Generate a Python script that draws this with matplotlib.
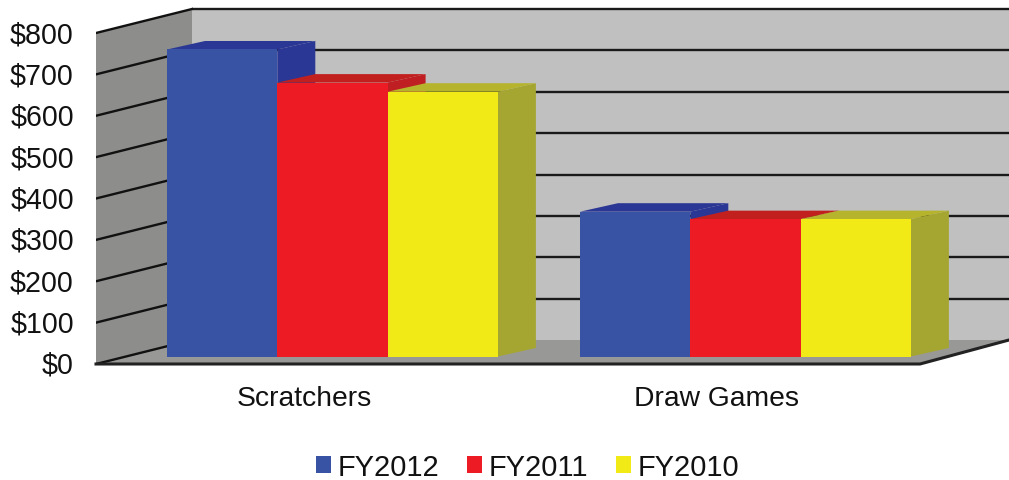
import matplotlib
matplotlib.use('Agg')
import matplotlib.pyplot as plt
from matplotlib.patches import Patch
from matplotlib.transforms import ScaledTranslation

plt.rcParams['font.family'] = ['Liberation Sans', 'DejaVu Sans']

#Data
categories = ['Scratchers', 'Draw Games']
series_names = ['FY2012', 'FY2011', 'FY2010']
fy2012 = [742, 350]
fy2011 = [662, 332]
fy2010 = [640, 332]
tick_values = [0, 100, 200, 300, 400, 500, 600, 700, 800]

#Colours: front, side, top
front_cols = ['#3953a4', '#ed1c24', '#f2ea17']
side_cols = ['#2b3795', '#bf1e22', '#a5a632']
top_cols = ['#2b3795', '#c2201f', '#b5b42c']

#Layout, x in px, y in data units
W, H = 1009, 481
PX = 331 / 800  #px per dollar
X0, X_END = 96, 1009
WALL_DX, WALL_DY = 96, 24 / PX
BAR_DX, BAR_DY = 38, 8.5 / PX
BAR_BASE = 7.5 / PX
BAR_W = 110.3
GROUP_X = [167, 580]
FLOOR_END = 920

fig = plt.figure(figsize=(W / 100, H / 100), dpi=100)
ax = fig.add_axes([X0 / W, (H - 365) / H, (W - X0) / W, 365 / H])
ax.set_xlim(X0, X_END)
ax.set_ylim(0, 365 / PX)
for s in ax.spines.values():
    s.set_visible(False)

#Walls and floor
top = 800
back_x = X0 + WALL_DX
ax.fill([back_x, X_END, X_END, back_x], [WALL_DY, WALL_DY, top + WALL_DY, top + WALL_DY], color='#c0c0c0', lw=0, zorder=1)
ax.fill([X0, back_x, X_END, X_END, FLOOR_END, X0], [0, WALL_DY, WALL_DY, WALL_DY, 0, 0], color='#989896', lw=0, zorder=2)
ax.fill([X0, back_x, back_x, X0], [0, WALL_DY, top + WALL_DY, top], color='#8d8d8b', lw=0, zorder=2)

#Gridlines
for v in tick_values[1:]:
    ax.plot([back_x, X_END], [v + WALL_DY, v + WALL_DY], color='#1a1a1a', lw=1.7, zorder=3, solid_capstyle='butt')
for v in tick_values:
    ax.plot([X0, back_x], [v, v + WALL_DY], color='#111111', lw=1.7, zorder=3)
ax.plot([X0, FLOOR_END, X_END], [0, 0, WALL_DY], color='#222222', lw=2.2, zorder=3, clip_on=False)

#Bars
for g, x_start in enumerate(GROUP_X):
    for i, vals in enumerate([fy2012, fy2011, fy2010]):
        z = 4 + g * 10 + i * 3
        left = x_start + i * BAR_W
        right = left + BAR_W
        v = vals[g]
        t = BAR_BASE + v
        ax.fill([right, right + BAR_DX, right + BAR_DX, right],
                [BAR_BASE, BAR_BASE + BAR_DY, t + BAR_DY, t], color=side_cols[i], lw=0, zorder=z)
        ax.fill([left, left + BAR_DX, right + BAR_DX, right],
                [t, t + BAR_DY, t + BAR_DY, t], color=top_cols[i], lw=0, zorder=z + 1)
        ax.bar(left, v, BAR_W, bottom=BAR_BASE, align='edge', color=front_cols[i], lw=0, zorder=z + 2)

#Ticks
ax.set_yticks(tick_values)
ax.set_yticklabels(['\\${}'.format(v) for v in tick_values], fontsize=20.6, color='#111111')
ax.set_xticks([304, 717])
ax.set_xticklabels(categories, fontsize=20.3, color='#111111')
ax.tick_params(axis='y', length=0, pad=16)
ax.tick_params(axis='x', length=0, pad=15)
up = ScaledTranslation(0, 2 / 100, fig.dpi_scale_trans)
for lab in ax.get_yticklabels():
    lab.set_transform(lab.get_transform() + up)

#Legend
handles = [Patch(color=c, lw=0) for c in front_cols]
fig.legend(handles, series_names, loc='center', bbox_to_anchor=(527.5 / W, (H - 468) / H), ncol=3,
           frameon=False, fontsize=20.9, labelcolor='#111111', handlelength=0.52, handleheight=0.52,
           handletextpad=0.22, columnspacing=0.96, borderpad=0, borderaxespad=0)

fig.savefig('out.png', dpi=100)
